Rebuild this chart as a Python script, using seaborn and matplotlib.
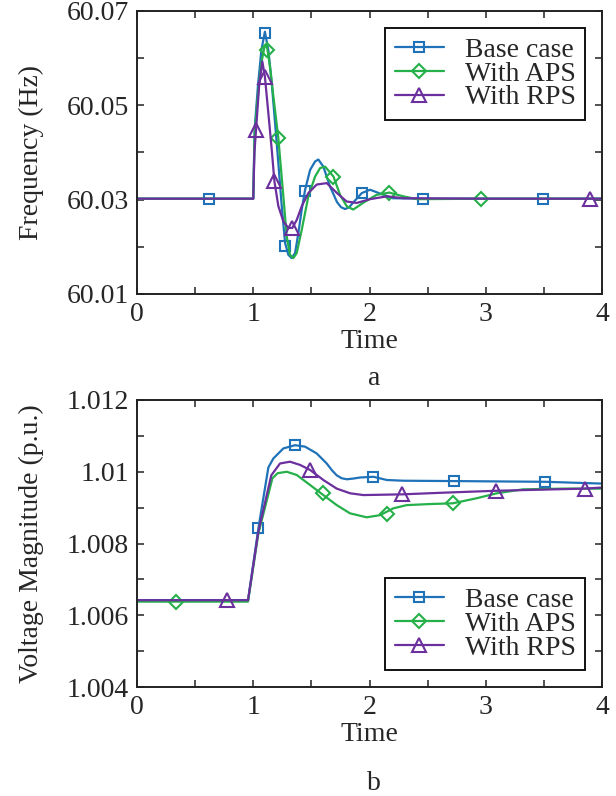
import matplotlib
matplotlib.use("Agg")
import matplotlib.pyplot as plt
from matplotlib.lines import Line2D
from matplotlib.ticker import MultipleLocator, FixedLocator, FuncFormatter
import seaborn as sns

# series labels and colours
labels = ["Base case", "With APS", "With RPS"]
colors = ["#1f72b8", "#25b04a", "#6b2f9e"]
markers = ["s", "D", "^"]
msizes = [7.5, 7, 10.5]

# (a) frequency, values
freq_t_base = [0, 1.0, 1.012, 1.04, 1.07, 1.10, 1.13, 1.159, 1.188, 1.216, 1.245, 1.274, 1.302, 1.331,
               1.36, 1.388, 1.417, 1.446, 1.489, 1.532, 1.56, 1.603, 1.66, 1.72, 1.755, 1.79, 1.825,
               1.86, 1.934, 2.005, 2.09, 2.2, 2.46, 3.0, 4.0]
freq_base = [60.0302, 60.0302, 60.045, 60.054, 60.0617, 60.0656, 60.0617, 60.0547, 60.0462, 60.0377,
             60.0286, 60.0208, 60.0183, 60.0176, 60.0187, 60.0229, 60.0279, 60.0321, 60.0363, 60.0381,
             60.0385, 60.0370, 60.0328, 60.0295, 60.0284, 60.0280, 60.0284, 60.0294, 60.0314, 60.0321,
             60.0313, 60.0303, 60.0302, 60.0302, 60.0302]
freq_t_aps = [0, 1.0, 1.012, 1.04, 1.07, 1.095, 1.116, 1.144, 1.173, 1.216, 1.259, 1.288, 1.316, 1.345,
              1.374, 1.417, 1.474, 1.532, 1.575, 1.618, 1.69, 1.747, 1.804, 1.86, 1.95, 2.06, 2.17,
              2.29, 2.41, 3.0, 4.0]
freq_aps = [60.0302, 60.0302, 60.044, 60.052, 60.059, 60.0622, 60.0628, 60.0582, 60.0519, 60.0430,
            60.0307, 60.0222, 60.0183, 60.0176, 60.0187, 60.0236, 60.0307, 60.0349, 60.0367, 60.0370,
            60.0349, 60.0310, 60.0286, 60.0279, 60.0294, 60.0310, 60.0315, 60.0307, 60.0301, 60.0302,
            60.0302]
freq_t_rps = [0, 1.0, 1.01, 1.024, 1.05, 1.078, 1.10, 1.13, 1.159, 1.182, 1.216, 1.259, 1.302, 1.336,
              1.374, 1.417, 1.474, 1.546, 1.632, 1.72, 1.804, 1.89, 2.005, 2.15, 2.29, 3.0, 4.0]
freq_rps = [60.0302, 60.0302, 60.040, 60.0448, 60.054, 60.0593, 60.0561, 60.0483, 60.0406, 60.0339,
            60.0286, 60.0254, 60.0240, 60.0240, 60.0257, 60.0286, 60.0314, 60.0332, 60.0335, 60.0314,
            60.0296, 60.0293, 60.0301, 60.0307, 60.0303, 60.0302, 60.0302]

# marker positions (a)
freq_mk_t = [[0.62, 1.10, 1.274, 1.446, 1.934, 2.46, 3.49],
             [1.12, 1.216, 1.69, 2.17, 2.96],
             [1.024, 1.10, 1.182, 1.336, 3.90]]
freq_mk_v = [[60.0302, 60.0654, 60.0201, 60.0319, 60.0314, 60.0302, 60.0302],
             [60.0618, 60.0430, 60.0349, 60.0315, 60.0302],
             [60.0448, 60.0561, 60.0339, 60.0240, 60.0302]]
freq_ticks = [60.01, 60.03, 60.05, 60.07]
freq_minor = [60.02, 60.04, 60.06]

# (b) voltage magnitude
volt_t_base = [0, 0.955, 1.044, 1.13, 1.173, 1.259, 1.359, 1.445, 1.546, 1.632, 1.68, 1.718, 1.76,
               1.804, 1.86, 1.919, 2.034, 2.148, 2.292, 2.73, 3.51, 4.0]
volt_base = [1.00642, 1.00642, 1.00842, 1.01012, 1.01037, 1.01065, 1.01074, 1.0107, 1.01051, 1.01023,
             1.01003, 1.0099, 1.00982, 1.00979, 1.00981, 1.00984, 1.00986, 1.00977, 1.00975, 1.00974,
             1.00972, 1.00967]
volt_t_aps = [0, 0.955, 1.044, 1.165, 1.21, 1.288, 1.374, 1.489, 1.603, 1.718, 1.833, 1.976, 2.09,
              2.205, 2.32, 2.52, 2.716, 2.92, 3.095, 3.32, 3.67, 4.0]
volt_aps = [1.00638, 1.00638, 1.00828, 1.00982, 1.00996, 1.0100, 1.00991, 1.00963, 1.00935, 1.00907,
            1.00884, 1.00873, 1.00879, 1.00898, 1.00907, 1.0091, 1.00912, 1.00926, 1.0094, 1.00951,
            1.00953, 1.00953]
volt_t_rps = [0, 0.955, 1.044, 1.155, 1.23, 1.316, 1.403, 1.489, 1.603, 1.718, 1.833, 1.947, 2.277,
              2.665, 3.09, 3.85, 4.0]
volt_rps = [1.00642, 1.00642, 1.00833, 1.0099, 1.01023, 1.01028, 1.01019, 1.01005, 1.00977, 1.00953,
            1.0094, 1.00935, 1.00937, 1.00942, 1.00947, 1.00953, 1.00956]

# marker positions (b)
volt_mk_t = [[1.044, 1.359, 2.03, 2.73, 3.51],
             [0.336, 1.60, 2.15, 2.72],
             [0.77, 1.489, 2.28, 3.09, 3.85]]
volt_mk_v = [[1.00842, 1.01074, 1.00986, 1.00974, 1.00972],
             [1.00638, 1.00940, 1.00882, 1.00912],
             [1.00642, 1.01005, 1.00937, 1.00947, 1.00953]]
volt_ticks = [1.004, 1.006, 1.008, 1.01, 1.012]
volt_minor = [1.005, 1.007, 1.009, 1.011]

sns.set_theme(style="ticks")
plt.rcParams["font.family"] = ["Liberation Serif", "DejaVu Serif"]
plt.rcParams["font.size"] = 20

fig = plt.figure(figsize=(6.16, 7.96), dpi=100)
ax1 = fig.add_axes([0.2224, 0.6307, 0.7549, 0.3555])
ax2 = fig.add_axes([0.2224, 0.1369, 0.7549, 0.3606])


def draw(ax, ts, vs, mk_t, mk_v):
    for i in range(3):
        sns.lineplot(x=ts[i], y=vs[i], ax=ax, color=colors[i], lw=1.6,
                     estimator=None, sort=False, legend=False)
        ax.plot(mk_t[i], mk_v[i], ls="none", marker=markers[i], ms=msizes[i],
                mfc="none", mec=colors[i], mew=1.5)


def style(ax, ylabel, yticks, yminor, legend_loc):
    ax.set_xlim(0, 4)
    ax.set_ylim(yticks[0], yticks[-1])
    ax.xaxis.set_major_locator(MultipleLocator(1))
    ax.xaxis.set_minor_locator(MultipleLocator(0.5))
    ax.yaxis.set_major_locator(FixedLocator(yticks))
    ax.yaxis.set_minor_locator(FixedLocator(yminor))
    fmt = FuncFormatter(lambda v, p: "%g" % round(v, 6))
    ax.xaxis.set_major_formatter(fmt)
    ax.yaxis.set_major_formatter(fmt)
    ax.tick_params(which="both", direction="in", top=True, right=True, length=5, width=1.1,
                   color="#222222", labelsize=20, pad=6)
    for sp in ax.spines.values():
        sp.set_linewidth(1.4)
        sp.set_color("#222222")
    ax.set_xlabel("Time", fontsize=20, labelpad=1)
    ax.set_ylabel(ylabel, fontsize=20, labelpad=16)
    handles = [Line2D([], [], color=colors[i], lw=1.6, marker=markers[i], ms=msizes[i],
                      mfc="none", mec=colors[i], mew=1.5) for i in range(3)]
    leg = ax.legend(handles, labels, loc=legend_loc, fontsize=20, frameon=True, fancybox=False,
                    framealpha=1, edgecolor="#111111", handlelength=1.75, handletextpad=0.75,
                    labelspacing=-0.06, borderpad=0.35, borderaxespad=0.6)
    leg.get_frame().set_linewidth(1.4)


draw(ax1, [freq_t_base, freq_t_aps, freq_t_rps], [freq_base, freq_aps, freq_rps], freq_mk_t, freq_mk_v)
style(ax1, "Frequency (Hz)", freq_ticks, freq_minor, "upper right")

draw(ax2, [volt_t_base, volt_t_aps, volt_t_rps], [volt_base, volt_aps, volt_rps], volt_mk_t, volt_mk_v)
style(ax2, "Voltage Magnitude (p.u.)", volt_ticks, volt_minor, "lower right")

fig.text(0.607, 0.525, "a", ha="center", va="center", fontsize=20)
fig.text(0.607, 0.016, "b", ha="center", va="center", fontsize=20)

fig.savefig("out.png", dpi=100)
